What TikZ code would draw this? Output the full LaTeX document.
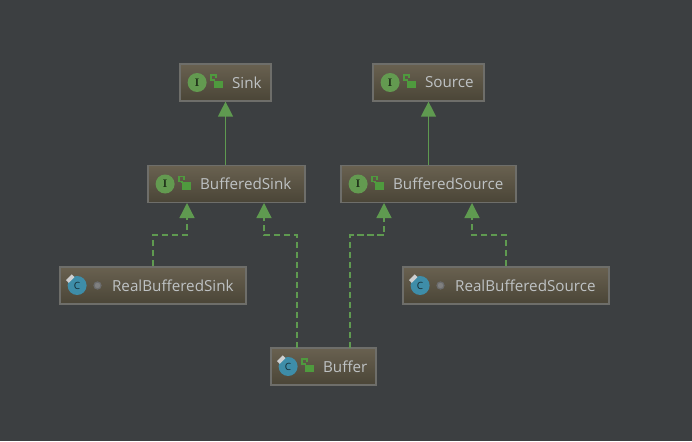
\documentclass[tikz,border=0pt]{standalone}
\usepackage{fontspec}
\setmainfont{Open Sans}
\usetikzlibrary{arrows.meta,positioning,calc}
\definecolor{bgcol}{HTML}{3C3F41}
\definecolor{edgecol}{HTML}{5F9A50}
\definecolor{boxline}{HTML}{6E6E6A}
\definecolor{boxtop}{HTML}{696150}
\definecolor{boxbot}{HTML}{4A4537}
\definecolor{textcol}{HTML}{BEC2C4}
\definecolor{ifacecol}{HTML}{639A50}
\definecolor{classcol}{HTML}{3E8DA8}
\definecolor{lockcol}{HTML}{4F9A3E}
\tikzset{
  typebox/.style={draw=boxline,line width=1.2pt,top color=boxtop,bottom color=boxbot,
    minimum height=37pt,inner sep=0pt},
  typename/.style={text=textcol,font=\fontsize{15.2}{17}\selectfont,inner sep=0pt,anchor=west},
  iface/.style={circle,fill=ifacecol,minimum size=19pt,inner sep=0pt,text=black!75!ifacecol,
    font=\fontfamily{lmr}\bfseries\fontsize{11}{11}\selectfont},
  cls/.style={circle,fill=classcol,minimum size=19pt,inner sep=0pt,text=black!70!classcol,
    font=\fontsize{10}{10}\selectfont},
  extends/.style={edgecol,line width=1.3pt,-{Triangle[width=15pt,length=15pt]}},
  implements/.style={extends,dash pattern=on 6.5pt off 3.5pt},
}
% box with icon and name: node name, centre x, centre y, width, text
\newcommand{\typebox}[5]{
  \node[typebox,minimum width=#4pt] (#1) at (#2,#3) {};
  \node[typename,right=52.5pt of #1.west] (#1name) {#5};
}
\newcommand{\ifaceicon}[1]{\node[iface,right=8pt of #1.west] (#1icon) {I};}
\newcommand{\clsicon}[1]{
  \node[cls,right=8pt of #1.west] (#1icon) {C};
  \fill[white!75!bgcol,rotate around={45:(#1icon.north west)}] ($(#1icon.north west)+(-4,-2)$) rectangle +(8,4);
}
\newcommand{\lockicon}[1]{
  \node[fill=lockcol,minimum width=9pt,minimum height=7.5pt,inner sep=0pt,right=34.5pt of #1.west,yshift=-2pt] (#1lock) {};
  \draw[lockcol,line width=1.2pt] (#1lock.north west) -- ++(0,-0.5) -- ++(-3,0) -- ++(0,-5) -- ++(5,0) -- ++(0,3);
}
\newcommand{\doticon}[1]{
  \node[circle,draw=gray!70!bgcol,fill=gray,line width=1.2pt,minimum size=7pt,inner sep=0pt,right=34pt of #1.west] (#1dot) {};
}
\begin{document}
\begin{tikzpicture}[x=1pt,y=-1pt]
  \fill[bgcol] (0,0) rectangle (692,441);
  \typebox{sink}{225.5}{82.5}{91}{Sink}
  \typebox{source}{428.5}{82.5}{111}{Source}
  \typebox{bufferedsink}{226.5}{184}{157}{BufferedSink}
  \typebox{bufferedsource}{428.5}{184}{175}{BufferedSource}
  \typebox{realsink}{153}{285.5}{186}{RealBufferedSink}
  \typebox{realsource}{506}{285.5}{206}{RealBufferedSource}
  \typebox{buffer}{323.5}{366.5}{105}{Buffer}
  \ifaceicon{sink} \lockicon{sink}
  \ifaceicon{source} \lockicon{source}
  \ifaceicon{bufferedsink} \lockicon{bufferedsink}
  \ifaceicon{bufferedsource} \lockicon{bufferedsource}
  \clsicon{realsink} \doticon{realsink}
  \clsicon{realsource} \doticon{realsource}
  \clsicon{buffer} \lockicon{buffer}
  % inheritance
  \draw[extends] (bufferedsink.north -| sink.south) -- (sink.south);
  \draw[extends] (bufferedsource.north) -- (source.south);
  % implementation
  \coordinate (sinkleft) at (187,203);
  \coordinate (sinkright) at (264,203);
  \coordinate (sourceleft) at (384,203);
  \coordinate (sourceright) at (472,203);
  \coordinate (bufferleft) at (297,348);
  \coordinate (bufferright) at (350,348);
  \draw[implements] (realsink.north) -- (153,235) -- (187,235) -- (sinkleft);
  \draw[implements] (bufferleft) -- (297,235) -- (264,235) -- (sinkright);
  \draw[implements] (bufferright) -- (350,235) -- (384,235) -- (sourceleft);
  \draw[implements] (realsource.north) -- (506,235) -- (472,235) -- (sourceright);
\end{tikzpicture}
\end{document}
